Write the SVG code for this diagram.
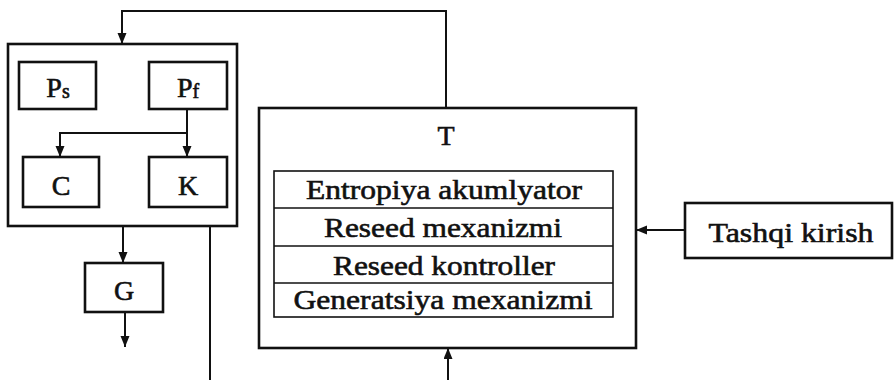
<svg xmlns="http://www.w3.org/2000/svg" width="894" height="380" viewBox="0 0 894 380">
<style>
  .box{fill:#fff;stroke:#111;stroke-width:2.6}
  .frame{fill:none;stroke:#111;stroke-width:2.6}
  .row{fill:none;stroke:#111;stroke-width:1.6}
  .ln{fill:none;stroke:#111;stroke-width:2}
  text{font-family:"Liberation Serif","Times New Roman",serif;fill:#111;font-size:28px;stroke:#111;stroke-width:0.6}
  .c{text-anchor:middle}
</style>
<defs>
  <marker id="ar" markerUnits="userSpaceOnUse" markerWidth="12" markerHeight="10" refX="11" refY="4.5" orient="auto">
    <path d="M0,0 L11,4.5 L0,9 z" fill="#111"/>
  </marker>
</defs>
<rect width="894" height="380" fill="#fff"/>

<g id="container">
  <rect class="frame" x="8" y="44" width="229" height="182"/>
</g>

<g id="connectors">
  <path class="ln" d="M446,108 V11 H122 V44" marker-end="url(#ar)"/>
  <path class="ln" d="M187,109 V157" marker-end="url(#ar)"/>
  <path class="ln" d="M187,133 H60 V157" marker-end="url(#ar)"/>
  <path class="ln" d="M123,226 V263" marker-end="url(#ar)"/>
  <path class="ln" d="M125,312 V347" marker-end="url(#ar)"/>
  <path class="ln" d="M210,226 V380"/>
  <path class="ln" d="M448,380 V348" marker-end="url(#ar)"/>
  <path class="ln" d="M685,230 H636" marker-end="url(#ar)"/>
</g>

<g id="Ps">
  <rect class="box" x="19" y="62" width="77" height="47"/>
  <text x="58" y="97" class="c">P<tspan font-size="20" dy="1">s</tspan></text>
</g>
<g id="Pf">
  <rect class="box" x="149" y="62" width="78" height="47"/>
  <text x="188" y="97" class="c">P<tspan font-size="20" dy="1">f</tspan></text>
</g>
<g id="C">
  <rect class="box" x="23" y="157" width="76" height="50"/>
  <text x="61" y="195" class="c">C</text>
</g>
<g id="K">
  <rect class="box" x="149" y="157" width="78" height="50"/>
  <text x="188" y="195" class="c">K</text>
</g>
<g id="G">
  <rect class="box" x="85" y="263" width="78" height="49"/>
  <text x="124" y="300" class="c">G</text>
</g>
<g id="T">
  <rect class="frame" x="259" y="108" width="377" height="240"/>
  <text x="446" y="145" class="c">T</text>
  <rect class="row" x="274" y="171" width="339" height="146"/>
  <line class="row" x1="274" y1="208" x2="613" y2="208"/>
  <line class="row" x1="274" y1="246" x2="613" y2="246"/>
  <line class="row" x1="274" y1="283" x2="613" y2="283"/>
  <text x="444" y="199" class="c" textLength="276" lengthAdjust="spacingAndGlyphs">Entropiya akumlyator</text>
  <text x="443" y="237" class="c" textLength="238" lengthAdjust="spacingAndGlyphs">Reseed mexanizmi</text>
  <text x="444" y="275" class="c" textLength="222" lengthAdjust="spacingAndGlyphs">Reseed kontroller</text>
  <text x="443" y="309" class="c" textLength="299" lengthAdjust="spacingAndGlyphs">Generatsiya mexanizmi</text>
</g>
<g id="Tashqi">
  <rect class="box" x="685" y="203" width="207" height="55"/>
  <text x="791" y="242" class="c" font-size="31" textLength="165" lengthAdjust="spacingAndGlyphs">Tashqi kirish</text>
</g>
</svg>
